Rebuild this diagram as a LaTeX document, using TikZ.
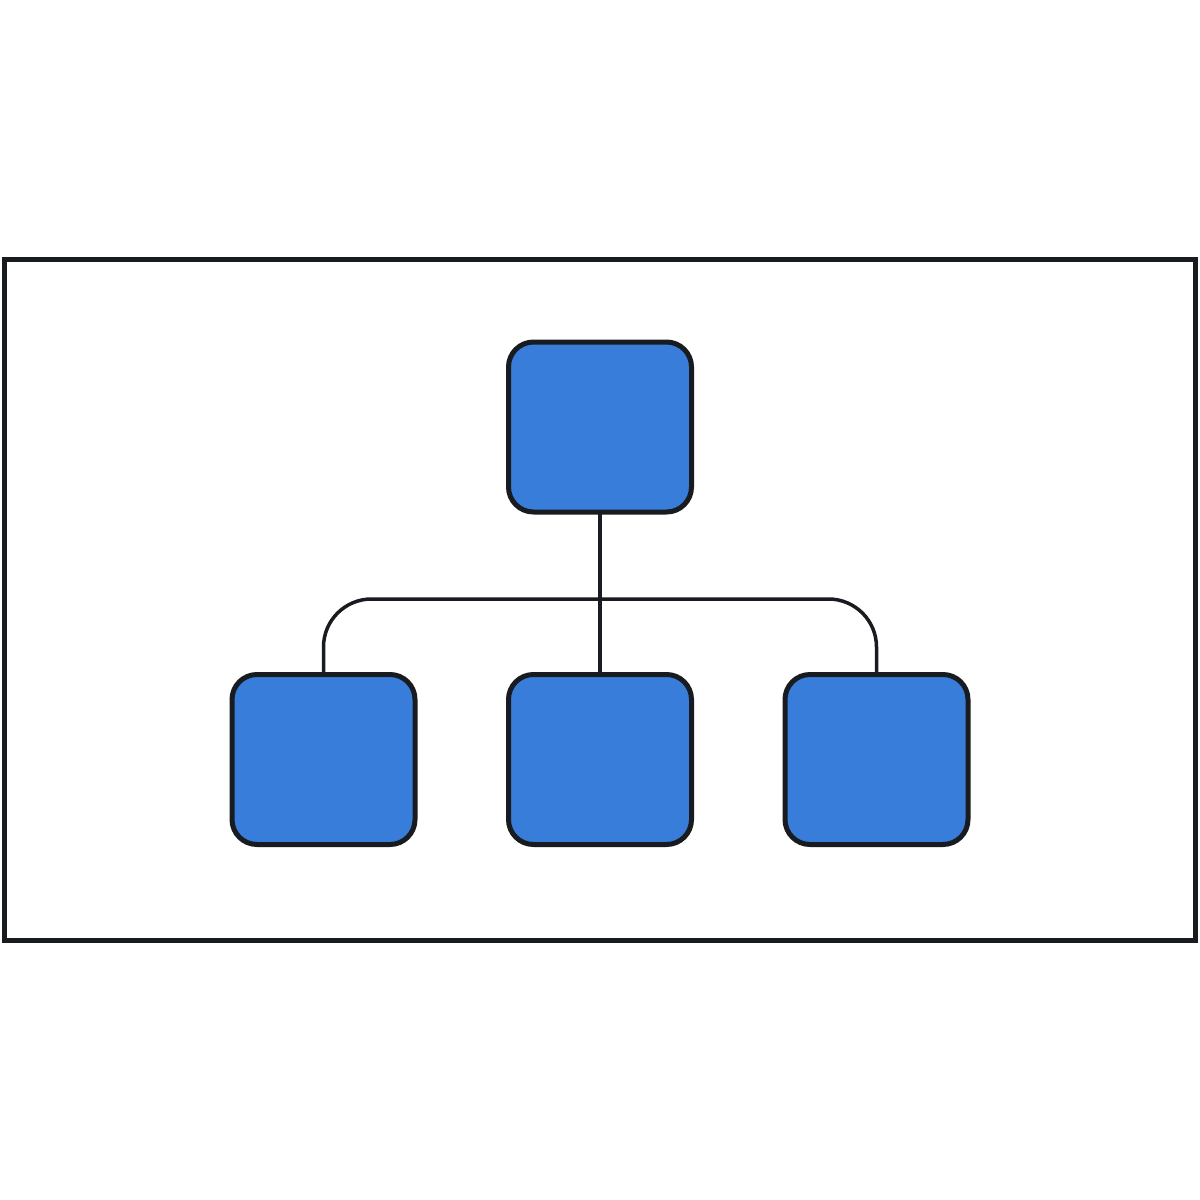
\documentclass[tikz,border=0pt]{standalone}
\usepackage{tikz}
\definecolor{chartblue}{HTML}{397DDB}
\definecolor{inkdark}{HTML}{181B1F}

\begin{document}
\begin{tikzpicture}[x=1pt, y=-1pt,
    orgbox/.style={draw=inkdark, fill=chartblue, line width=5pt, rounded corners=25pt,
        minimum width=183pt, minimum height=170pt, inner sep=0pt, outer sep=0pt}]
    \useasboundingbox (0,0) rectangle (1200,1200);
    \draw[inkdark, line width=5pt] (4.5,259.5) rectangle (1195.5,940);
    \coordinate (hub) at (600,599);
    \node[orgbox] (boss) at (600,427) {};
    \node[orgbox] (left) at (323.5,759.5) {};
    \node[orgbox] (mid) at (600,759.5) {};
    \node[orgbox] (right) at (876.5,759.5) {};
    \draw[inkdark, line width=3.5pt] (boss.south) -- (mid.north);
    \draw[inkdark, line width=3.5pt, rounded corners=48pt] (left.north) |- (hub) -| (right.north);
\end{tikzpicture}
\end{document}
